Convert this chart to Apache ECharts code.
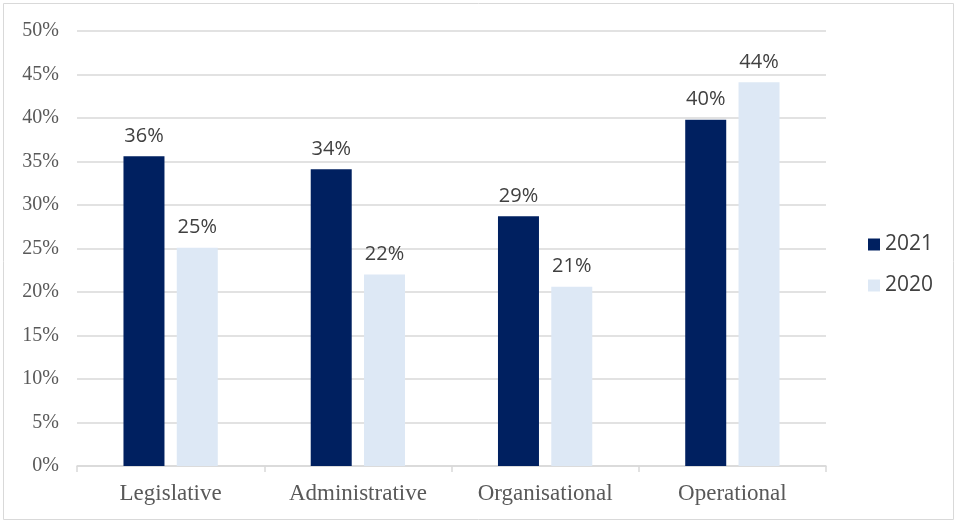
<!DOCTYPE html>
<html>
<head>
<meta charset="utf-8">
<script src="https://cdn.jsdelivr.net/npm/echarts@6/dist/echarts.min.js"></script>
<style>
    html, body { margin: 0; padding: 0; background: #fff; }
    #chart { width: 957px; height: 523px; }
</style>
</head>
<body>
<div id="chart"></div>
<script>
    var categories = ['Legislative', 'Administrative', 'Organisational', 'Operational'];
    var values2021 = [35.6, 34.1, 28.7, 39.8];
    var values2020 = [25.1, 22.0, 20.6, 44.1];
    var labels2021 = ['36%', '34%', '29%', '40%'];
    var labels2020 = ['25%', '22%', '21%', '44%'];

    var myChart = echarts.init(document.getElementById('chart'));
    var labelStyle = {
        show: true,
        position: 'top',
        distance: 10,
        color: '#404040',
        fontFamily: 'Open Sans, Liberation Sans, sans-serif',
        fontSize: 20
    };
    var option = {
        animation: false,
        graphic: [{
            type: 'rect',
            shape: { x: 3.5, y: 3.5, width: 950, height: 516 },
            style: { fill: 'none', stroke: '#d9d9d9', lineWidth: 1 }
        }],
        grid: { left: 77, right: 131, top: 31, bottom: 57 },
        legend: {
            orient: 'vertical',
            left: 863,
            top: 229,
            itemWidth: 12,
            itemHeight: 12,
            itemGap: 20,
            icon: 'rect',
            textStyle: { color: '#404040', fontSize: 21, fontFamily: 'Open Sans, Liberation Sans, sans-serif' },
            data: ['2021', '2020']
        },
        xAxis: {
            type: 'category',
            data: categories,
            axisLine: { lineStyle: { color: '#d9d9d9', width: 1.5 } },
            axisTick: { show: true, length: 6, lineStyle: { color: '#d9d9d9', width: 1.5 } },
            axisLabel: { color: '#595959', fontSize: 23, fontFamily: 'Liberation Serif, serif', margin: 16 }
        },
        yAxis: {
            type: 'value',
            min: 0,
            max: 50,
            interval: 5,
            axisLine: { show: false },
            axisTick: { show: false },
            splitLine: { lineStyle: { color: '#d9d9d9', width: 1.5 } },
            axisLabel: {
                color: '#595959', fontSize: 20, fontFamily: 'Liberation Serif, serif', margin: 18,
                formatter: '{value}%'
            }
        },
        series: [
            {
                name: '2021',
                type: 'bar',
                data: values2021,
                barWidth: 41,
                barGap: '30%',
                itemStyle: { color: '#002060' },
                label: Object.assign({}, labelStyle, {
                    formatter: function (p) { return labels2021[p.dataIndex]; }
                })
            },
            {
                name: '2020',
                type: 'bar',
                data: values2020,
                barWidth: 41,
                itemStyle: { color: '#dde8f5' },
                label: Object.assign({}, labelStyle, {
                    formatter: function (p) { return labels2020[p.dataIndex]; }
                })
            }
        ]
    };
    myChart.setOption(option);
</script>
</body>
</html>
